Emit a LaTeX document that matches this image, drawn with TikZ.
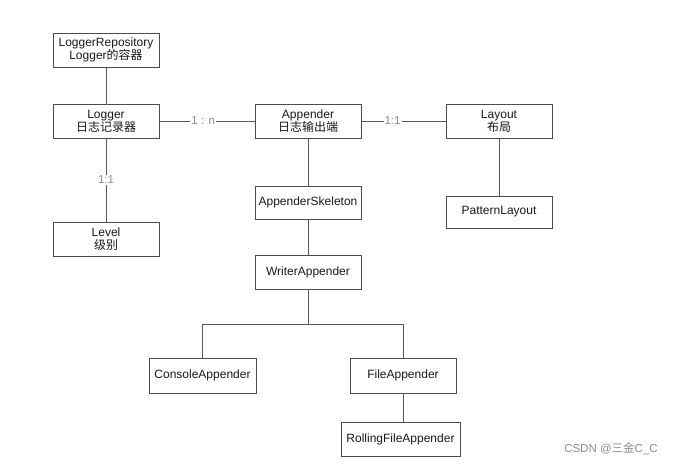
\documentclass[tikz,border=0pt]{standalone}
\usepackage{fontspec}
\setmainfont{Liberation Sans}
\newfontfamily\cjk{Noto Sans CJK SC}
\begin{document}
\begin{tikzpicture}[x=1pt,y=-1pt,
  box/.style={draw=black!70, line width=0.8pt, fill=white, minimum width=106pt, minimum height=34pt, inner sep=1pt, align=center, font=\fontsize{12}{13}\selectfont, text=black!90},
  conn/.style={draw=black!65, line width=0.8pt},
  lbl/.style={fill=white, inner sep=1pt, text=black!45, font=\fontsize{11.5}{13}\selectfont}]
\useasboundingbox (0,0) rectangle (678,465);
\node[box] (repo) at (106,50) {LoggerRepository\\Logger{\cjk 的容器}};
\node[box] (logger) at (106,121) {Logger\\{\cjk 日志记录器}};
\node[box] (level) at (106,239) {Level\\{\cjk 级别}};
\node[box] (app) at (308,121) {Appender\\{\cjk 日志输出端}};
\node[box] (layout) at (499,121) {Layout\\{\cjk 布局}};
\node[box, minimum height=33pt] (skel) at (308,202.5) {AppenderSkeleton};
\node[box, minimum height=32pt] (pattern) at (499,212) {PatternLayout};
\node[box] (writer) at (308,272) {WriterAppender};
\node[box, minimum width=107pt, minimum height=35pt] (console) at (202.5,375.5) {ConsoleAppender};
\node[box, minimum height=35pt] (file) at (403,375.5) {FileAppender};
\node[box, minimum width=119pt] (rolling) at (400.5,439) {RollingFileAppender};
\coordinate (split) at (308,324);
\draw[conn] (repo) -- (logger);
\draw[conn] (logger) -- node[lbl, pos=0.5] {1:1} (level);
\draw[conn] (logger) -- node[lbl, pos=0.46] {1 : n} (app);
\draw[conn] (app) -- node[lbl, pos=0.37] {1:1} (layout);
\draw[conn] (app) -- (skel);
\draw[conn] (layout) -- (pattern);
\draw[conn] (skel) -- (writer);
\draw[conn] (writer) -- (split);
\draw[conn] (split) -| (console.north);
\draw[conn] (split) -| (file.north);
\draw[conn] (file.south) -- (file.south |- rolling.north);
\node[text=black!45, font=\fontsize{11.5}{13}\selectfont, anchor=center] (wm) at (611,449) {CSDN @{\cjk 三金}C\_C};
\end{tikzpicture}
\end{document}
